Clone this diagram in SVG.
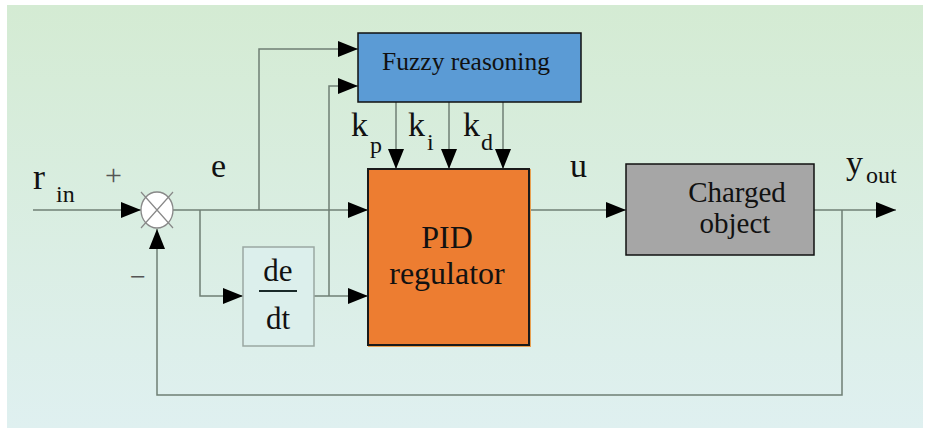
<svg xmlns="http://www.w3.org/2000/svg" width="928" height="430" viewBox="0 0 928 430">
<defs>
<linearGradient id="bg" x1="0" y1="0" x2="0" y2="1">
<stop offset="0" stop-color="#d4ebd3"/>
<stop offset="1" stop-color="#dff0f0"/>
</linearGradient>
<marker id="ah" markerWidth="20" markerHeight="16" refX="20" refY="8" orient="auto" markerUnits="userSpaceOnUse">
<path d="M0,0 L20,8 L0,16 Z" fill="#000"/>
</marker>
</defs>
<style>
.ln{fill:none;stroke:#6f7f74;stroke-width:1.5}
text{font-family:"Liberation Serif","Times New Roman",serif;fill:#111}
</style>
<rect width="928" height="430" fill="#fff"/>
<rect x="7" y="5" width="916" height="423" fill="url(#bg)"/>

<g id="connectors">
<path class="ln" d="M33,210 H141" marker-end="url(#ah)"/>
<path class="ln" d="M173,210 H368" marker-end="url(#ah)"/>
<path class="ln" d="M200,210 V296 H243" marker-end="url(#ah)"/>
<path class="ln" d="M259,210 V49 H358" marker-end="url(#ah)"/>
<path class="ln" d="M314,296 H368" marker-end="url(#ah)"/>
<path class="ln" d="M329,296 V86 H358" marker-end="url(#ah)"/>
<path class="ln" d="M396,102 V169" marker-end="url(#ah)"/>
<path class="ln" d="M449,102 V169" marker-end="url(#ah)"/>
<path class="ln" d="M503,102 V169" marker-end="url(#ah)"/>
<path class="ln" d="M529,210 H626" marker-end="url(#ah)"/>
<path class="ln" d="M814,210 H896" marker-end="url(#ah)"/>
<path class="ln" d="M842,210 V395 H157 V229" marker-end="url(#ah)"/>
</g>

<g id="sum">
<ellipse cx="157" cy="210" rx="16" ry="18" fill="#fff" stroke="#888" stroke-width="1.3"/>
<path d="M141,192 L173,228 M173,192 L141,228" stroke="#888" stroke-width="1.2"/>
</g>

<g id="fuzzy">
<rect x="358" y="33" width="223" height="69" fill="#5b9bd5" stroke="#111" stroke-width="1.5"/>
<text x="466" y="70" font-size="25.5" text-anchor="middle">Fuzzy reasoning</text>
</g>

<g id="pid">
<rect x="369" y="170" width="161" height="176" fill="none" stroke="#e8a050" stroke-width="2"/>
<rect x="368" y="169" width="161" height="176" fill="#ed7d31" stroke="#1a1a1a" stroke-width="2"/>
<text x="447" y="248" font-size="32" text-anchor="middle">PID</text>
<text x="447" y="284" font-size="32" text-anchor="middle">regulator</text>
</g>

<g id="plant">
<rect x="626" y="164" width="188" height="91" fill="#a6a6a6" stroke="#111" stroke-width="1.5"/>
<text x="737" y="202" font-size="29" text-anchor="middle">Charged</text>
<text x="735" y="233" font-size="29" text-anchor="middle">object</text>
</g>

<g id="deriv">
<rect x="243" y="247" width="71" height="99" fill="#dcefec" stroke="#9aa8a2" stroke-width="1.5"/>
<text x="278" y="281" font-size="31" text-anchor="middle">de</text>
<line x1="259" y1="291" x2="297" y2="291" stroke="#1a2a2a" stroke-width="2"/>
<text x="278" y="329" font-size="31" text-anchor="middle">dt</text>
</g>

<g id="labels">
<text x="33" y="189" font-size="36">r</text>
<text x="56" y="202" font-size="24">in</text>
<text x="105" y="185" font-size="30" style="fill:#555">+</text>
<text x="130" y="286" font-size="28" style="fill:#555">−</text>
<text x="211" y="177" font-size="34">e</text>
<text x="351" y="136" font-size="34">k</text>
<text x="370" y="153" font-size="24">p</text>
<text x="408" y="136" font-size="34">k</text>
<text x="427" y="150" font-size="24">i</text>
<text x="463" y="136" font-size="34">k</text>
<text x="481" y="150" font-size="24">d</text>
<text x="570" y="177" font-size="34">u</text>
<text x="846" y="174" font-size="34">y</text>
<text x="866" y="183" font-size="24">out</text>
</g>
</svg>
